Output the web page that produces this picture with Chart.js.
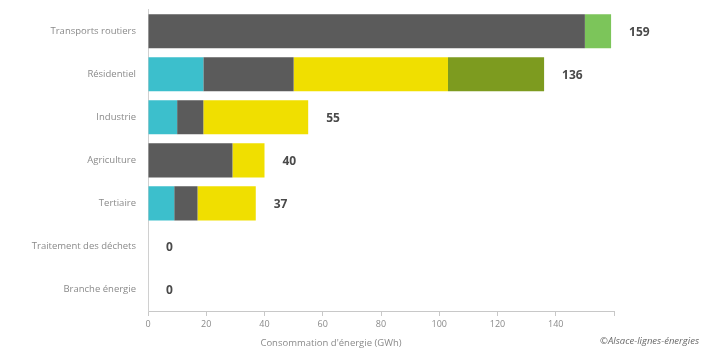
<!DOCTYPE html>
<html>
<head>
<meta charset="utf-8">
<script src="https://cdn.jsdelivr.net/npm/chart.js@4/dist/chart.umd.min.js"></script>
<style>
    html, body { margin: 0; padding: 0; background: #fff; }
    #wrap { width: 701px; height: 355px; position: relative; }
</style>
</head>
<body>
<div id="wrap"><canvas id="conso-chart"></canvas></div>
<script>
// Data (GWh)
const categories = ['Transports routiers', 'Résidentiel', 'Industrie', 'Agriculture', 'Tertiaire', 'Traitement des déchets', 'Branche énergie'];
const electricite = [0, 19, 10, 0, 9, 0, 0];
const produitsPetroliers = [150, 31, 9, 29, 8, 0, 0];
const gazNaturel = [0, 53, 36, 11, 20, 0, 0];
const boisEnergie = [0, 33, 0, 0, 0, 0, 0];
const agrocarburants = [9, 0, 0, 0, 0, 0, 0];
const totals = [159, 136, 55, 40, 37, 0, 0];
const xTicks = [0, 20, 40, 60, 80, 100, 120, 140];

const axisTitle = "Consommation d'énergie (GWh)";
const sourceText = '©Alsace-lignes-énergies';

// Totals at the end of each bar + axis title + source
const annotations = {
    id: 'annotations',
    afterDatasetsDraw(chart) {
        const ctx = chart.ctx;
        const x = chart.scales.x;
        const y = chart.scales.y;
        ctx.save();
        ctx.fillStyle = '#4a4a4a';
        ctx.font = 'bold 12px "Open Sans", sans-serif';
        ctx.textBaseline = 'middle';
        ctx.textAlign = 'left';
        totals.forEach(function(t, i) {
            ctx.fillText(String(t), x.getPixelForValue(t) + 18, y.getPixelForValue(i) + 1);
        });
        ctx.fillStyle = '#8a8a8a';
        ctx.font = '9.5px "Open Sans", sans-serif';
        ctx.textAlign = 'center';
        ctx.fillText(axisTitle, 331, 343);
        ctx.fillStyle = '#6a6a6a';
        ctx.font = 'italic 9.5px "Open Sans", sans-serif';
        ctx.textAlign = 'right';
        ctx.fillText(sourceText, 699, 341);
        ctx.restore();
    }
};

function initConsoChart() {
    const consoCtx = document.getElementById('conso-chart');
    if(consoCtx) {
        new Chart(consoCtx, {
            type: 'bar',
            data: {
                labels: categories,
                datasets: [
                    { label: 'Électricité', data: electricite, backgroundColor: '#3cbfcc' },
                    { label: 'Produits pétroliers', data: produitsPetroliers, backgroundColor: '#5b5b5b' },
                    { label: 'Gaz naturel', data: gazNaturel, backgroundColor: '#f0df00' },
                    { label: 'Bois-énergie', data: boisEnergie, backgroundColor: '#7d9b1f' },
                    { label: 'Agrocarburants', data: agrocarburants, backgroundColor: '#7cc55a' }
                ]
            },
            options: {
                indexAxis: 'y',
                responsive: true,
                maintainAspectRatio: false,
                animation: false,
                categoryPercentage: 0.8,
                barPercentage: 0.99,
                layout: {
                    padding: { top: 3, right: 87, bottom: 0, left: 0 }
                },
                plugins: {
                    legend: { display: false },
                    tooltip: { enabled: false }
                },
                scales: {
                    x: {
                        stacked: true,
                        min: 0,
                        max: 160,
                        afterFit: function(scale) { scale.height = 44; },
                        afterBuildTicks: function(scale) {
                            scale.ticks = xTicks.concat([160]).map(function(v) { return { value: v }; });
                        },
                        grid: {
                            drawOnChartArea: false,
                            drawTicks: true,
                            tickLength: 5,
                            color: '#c8c8c8'
                        },
                        border: { display: true, color: '#c8c8c8', width: 1 },
                        ticks: {
                            color: '#8a8a8a',
                            padding: 3,
                            maxRotation: 0,
                            font: { family: 'Open Sans', size: 9 },
                            callback: function(value) {
                                return xTicks.includes(value) ? String(value) : '';
                            }
                        }
                    },
                    y: {
                        stacked: true,
                        afterFit: function(scale) { scale.width = 148; },
                        grid: { display: false },
                        border: { display: true, color: '#d0d0d0', width: 1 },
                        ticks: {
                            color: '#8a8a8a',
                            padding: 4,
                            font: { family: 'Open Sans', size: 9.5 }
                        }
                    }
                }
            },
            plugins: [annotations]
        });
    }
}

initConsoChart();
</script>
</body>
</html>
